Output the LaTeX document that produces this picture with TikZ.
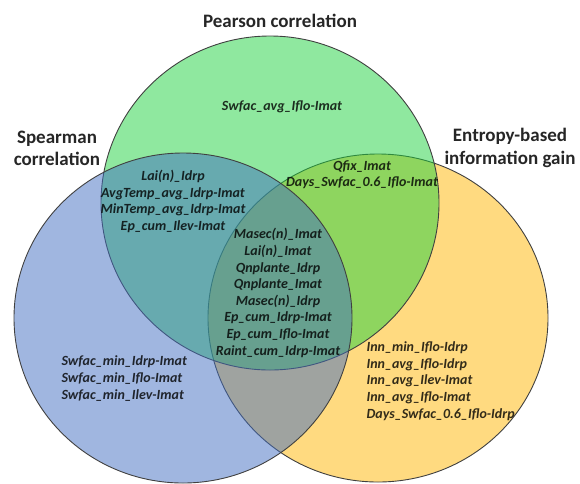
\documentclass[tikz,border=0pt]{standalone}
\usepackage{fontspec}
\setmainfont{Carlito}
\definecolor{spearmanc}{RGB}{65,109,193}
\definecolor{pearsonc}{RGB}{31,209,63}
\definecolor{entropyc}{RGB}{255,181,1}
\begin{document}
\begin{tikzpicture}[x=1pt,y=-1pt,
	settitle/.style={font=\bfseries\fontsize{19}{22.5}\selectfont, text=black!85, align=center},
	setitems/.style={font=\bfseries\itshape\fontsize{14}{16.6}\selectfont, text=black, text opacity=0.8, align=center},
	setdisk/.style={draw=black!75, line width=0.9pt, fill opacity=0.5}]
	\useasboundingbox (0,0) rectangle (580,483);
	% the three sets
	\draw[setdisk, fill=entropyc] (378,318) ellipse [x radius=170, y radius=164];
	\draw[setdisk, fill=pearsonc] (270,203) ellipse [x radius=169, y radius=167];
	\draw[setdisk, fill=spearmanc] (183,318) ellipse [x radius=169, y radius=165];
	% set names
	\node[settitle] (pearson) at (280,21) {Pearson correlation};
	\node[settitle] (spearman) at (57,148.5) {Spearman\\correlation};
	\node[settitle] (entropy) at (510,148) {Entropy-based\\information gain};
	% variables
	\node[setitems] (p) at (282,107) {Swfac\_avg\_Iflo-Imat};
	\node[setitems] (sp) at (173,201.5) {Lai(n)\_Idrp\\AvgTemp\_avg\_Idrp-Imat\\MinTemp\_avg\_Idrp-Imat\\Ep\_cum\_Ilev-Imat};
	\node[setitems] (pe) at (362,174.5) {Qfix\_Imat\\Days\_Swfac\_0.6\_Iflo-Imat};
	\node[setitems] (spe) at (278,293) {Masec(n)\_Imat\\Lai(n)\_Imat\\Qnplante\_Idrp\\Qnplante\_Imat\\Masec(n)\_Idrp\\Ep\_cum\_Idrp-Imat\\Ep\_cum\_Iflo-Imat\\Raint\_cum\_Idrp-Imat};
	\node[setitems, align=left, anchor=west] (s) at (58,378.5) {Swfac\_min\_Idrp-Imat\\Swfac\_min\_Iflo-Imat\\Swfac\_min\_Ilev-Imat};
	\node[setitems, align=left, anchor=west] (e) at (363,381) {Inn\_min\_Iflo-Idrp\\Inn\_avg\_Iflo-Idrp\\Inn\_avg\_Ilev-Imat\\Inn\_avg\_Iflo-Imat\\Days\_Swfac\_0.6\_Iflo-Idrp};
\end{tikzpicture}
\end{document}
